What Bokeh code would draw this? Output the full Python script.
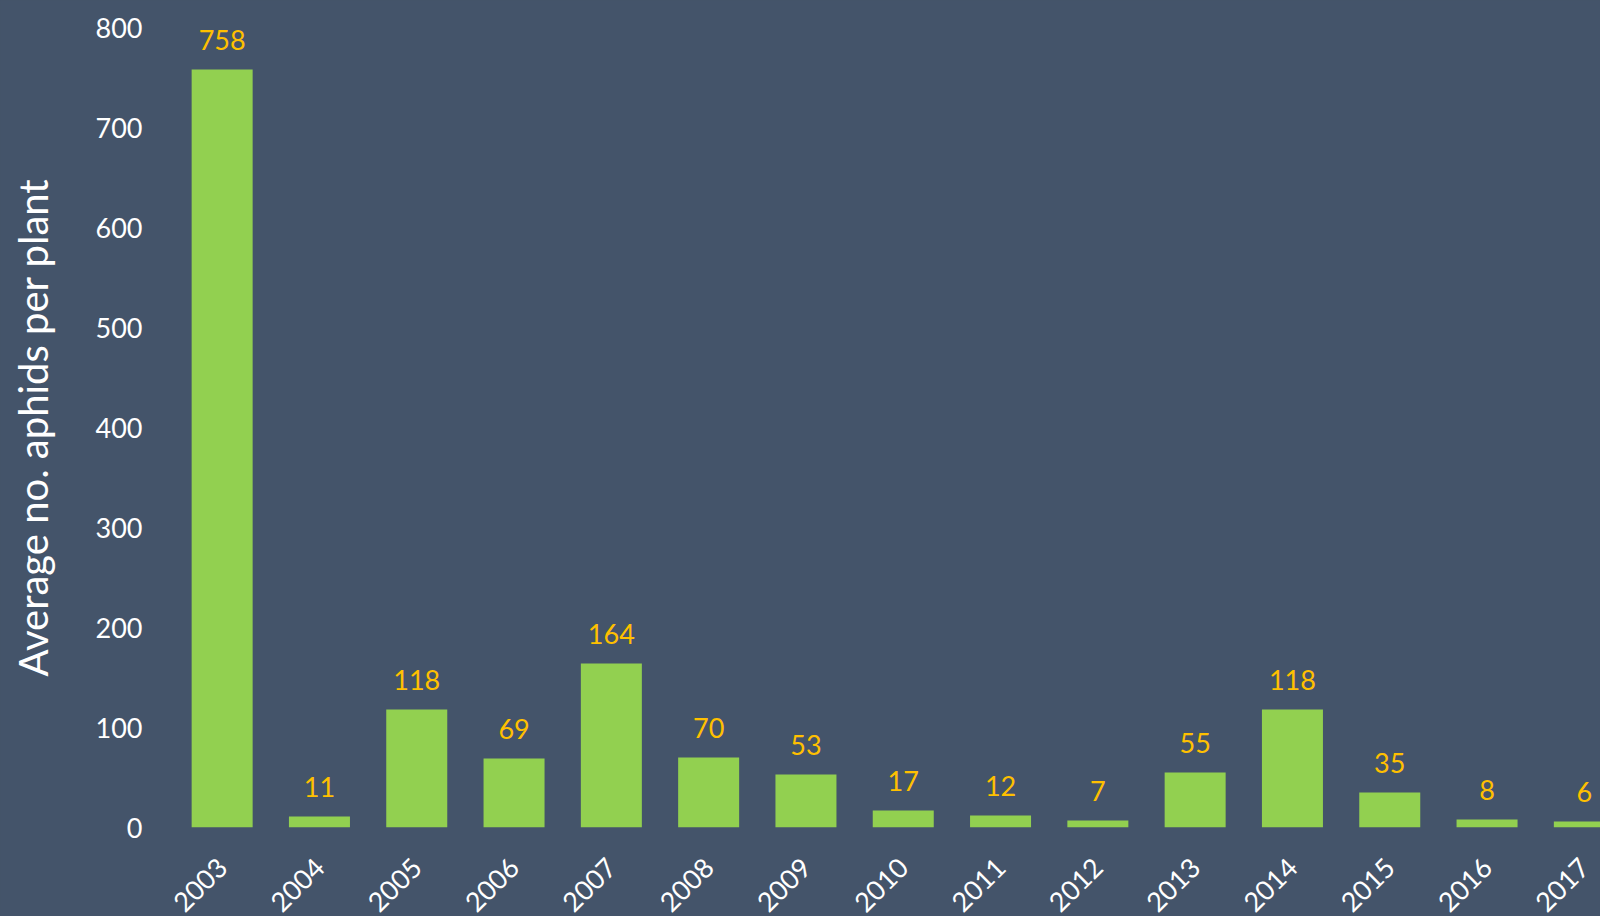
import math
from bokeh.plotting import figure
from bokeh.models import ColumnDataSource, Range1d, FixedTicker
from bokeh.core.properties import value
from bokeh.embed import file_html
from bokeh.resources import INLINE

years = ["2003", "2004", "2005", "2006", "2007", "2008", "2009", "2010",
         "2011", "2012", "2013", "2014", "2015", "2016", "2017"]
aphids = [758, 11, 118, 69, 164, 70, 53, 17, 12, 7, 55, 118, 35, 8, 6]
y_ticks = [0, 100, 200, 300, 400, 500, 600, 700, 800]

BG = "#44546A"
BAR = "#92D050"
LBL = "#FFC000"
FONT = "Lato"

idx = list(range(len(years)))
src = ColumnDataSource(dict(x=idx, top=aphids, label=[str(v) for v in aphids]))

p = figure(frame_width=1427, frame_height=800, output_backend="svg", toolbar_location=None,
           x_range=Range1d(-0.5, 14.166), y_range=Range1d(0, 800),
           min_border_left=173, min_border_right=0, min_border_top=27, min_border_bottom=89)
p.background_fill_color = None
p.border_fill_color = BG
p.outline_line_color = None
p.outline_line_alpha = 0
p.grid.grid_line_color = None

p.vbar(x="x", top="top", width=0.627, bottom=0, source=src,
       fill_color=BAR, line_color=None)
p.text(x="x", y="top", text="label", source=src, y_offset=-30,
       text_align="center", text_baseline="alphabetic",
       text_color=LBL, text_font=value(FONT), text_font_size="27px")

p.xaxis.ticker = FixedTicker(ticks=idx)
p.xaxis.major_label_overrides = {i: y for i, y in enumerate(years)}
p.xaxis.major_label_orientation = math.pi / 4
p.xaxis.major_label_text_color = "white"
p.xaxis.major_label_text_font = FONT
p.xaxis.major_label_text_font_size = "27px"
p.xaxis.major_label_standoff = 29
p.xaxis.axis_line_color = None
p.xaxis.major_tick_line_color = None
p.xaxis.minor_tick_line_color = None

p.yaxis.ticker = FixedTicker(ticks=y_ticks)
p.yaxis.major_label_text_color = "white"
p.yaxis.major_label_text_font = FONT
p.yaxis.major_label_text_font_size = "27px"
p.yaxis.major_label_standoff = 31
p.yaxis.major_tick_out = 0
p.yaxis.major_tick_in = 0
p.yaxis.axis_line_color = None
p.yaxis.major_tick_line_color = None
p.yaxis.minor_tick_line_color = None
p.yaxis.axis_label = "Average no. aphids per plant"
p.yaxis.axis_label_text_color = "white"
p.yaxis.axis_label_text_font = FONT
p.yaxis.axis_label_text_font_style = "normal"
p.yaxis.axis_label_text_font_size = "40px"
p.yaxis.axis_label_standoff = 36

html = file_html(p, INLINE)
style = "<style>html,body{background:%s !important;margin:0 !important;overflow:hidden !important;}</style>" % BG
html = html.replace("</head>", style + "</head>", 1)
open("out.html", "w").write(html)
